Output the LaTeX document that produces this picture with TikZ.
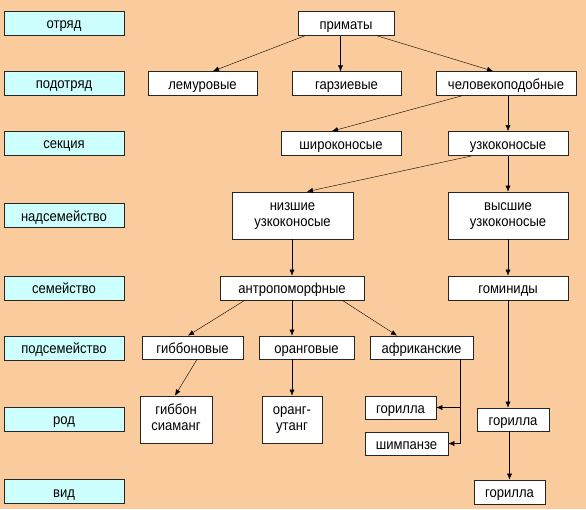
\documentclass[tikz,border=0pt]{standalone}
\usepackage{fontspec}
\setmainfont{Liberation Sans}[FakeStretch=0.9]
\usetikzlibrary{arrows.meta, calc}

\definecolor{peach}{RGB}{250,203,156}
\definecolor{rankcyan}{RGB}{206,255,255}

\begin{document}
\begin{tikzpicture}[x=1pt, y=-1pt, >={Latex[length=6pt, width=5pt]},
    rankbox/.style={draw=black!85, fill=rankcyan, line width=0.8pt, inner sep=0pt,
        minimum width=120pt, minimum height=24pt, text height=11pt, text depth=0pt},
    taxonbox/.style={draw=black!85, fill=white, line width=0.8pt, inner sep=0pt,
        minimum height=24pt, text height=11pt, text depth=0pt},
    twoline/.style={taxonbox, align=center, minimum height=47pt,
        text height=24pt, text depth=2pt},
    font=\fontsize{14.5}{16.5}\selectfont]

    % --- Background ---
    \fill[peach] (0,0) rectangle (586,509);
    \useasboundingbox (0,0) rectangle (586,509);

    % --- Ranks (left column) ---
    \node[rankbox] (rOtryad)    at (64,23)    {отряд};
    \node[rankbox] (rPodotryad) at (64,83)    {подотряд};
    \node[rankbox] (rSekciya)   at (64,143)   {секция};
    \node[rankbox] (rNadsem)    at (64,215.5) {надсемейство};
    \node[rankbox] (rSem)       at (64,288)   {семейство};
    \node[rankbox] (rPodsem)    at (64,348)   {подсемейство};
    \node[rankbox] (rRod)       at (64,419)   {род};
    \node[rankbox] (rVid)       at (64,491.5) {вид};

    % --- Taxa ---
    \node[taxonbox, minimum width=96pt]  (primaty)   at (346,23.5)   {приматы};
    \node[taxonbox, minimum width=109pt] (lemur)     at (202.5,83.5) {лемуровые};
    \node[taxonbox, minimum width=109pt] (tarz)      at (346.5,83.5) {гарзиевые};
    \node[taxonbox, minimum width=140pt] (chelov)    at (506,83.5)   {человекоподобные};
    \node[taxonbox, minimum width=120pt] (shiroko)   at (341,143.5)  {широконосые};
    \node[taxonbox, minimum width=120pt] (uzko)      at (508,143.5)  {узкоконосые};
    \node[twoline, minimum width=121pt] (nizshie) at (292.5,215.5) {низшие\\узкоконосые};
    \node[twoline, minimum width=120pt] (vysshie) at (508,215.5)   {высшие\\узкоконосые};
    \node[taxonbox, minimum width=144pt] (antropo)   at (292,288)    {антропоморфные};
    \node[taxonbox, minimum width=120pt] (gominid)   at (508,288)    {гоминиды};
    \node[taxonbox, minimum width=101pt, minimum height=23pt] (gibbonovye) at (192.5,347.5) {гиббоновые};
    \node[taxonbox, minimum width=95pt, minimum height=23pt]  (orangovye)  at (306.5,347.5) {оранговые};
    \node[taxonbox, minimum width=103pt, minimum height=23pt] (afrikan)    at (421.5,347.5) {африканские};
    \node[twoline, minimum width=72pt] (gibbon)     at (176,419.5)   {гиббон\\сиаманг};
    \node[twoline, minimum width=60pt] (orangutan)  at (292,419.5)   {оранг-\\утанг};
    \node[taxonbox, minimum width=71pt, minimum height=23pt]  (gorillaL)   at (400.5,407.5) {горилла};
    \node[taxonbox, minimum width=83pt, minimum height=23pt]  (shimp)      at (406.5,443.5) {шимпанзе};
    \node[taxonbox, minimum width=72pt, minimum height=23pt]  (gorillaR)   at (513,419.5)   {горилла};
    \node[taxonbox, minimum width=71pt]  (gorillaV)  at (509.5,492)  {горилла};

    % --- Connectors ---
    \draw[->] ($(primaty.south west)+(7,0)$) -- ($(lemur.north)+(10.5,0)$);
    \draw[->] (primaty.south -| tarz.north) ++(-6,0) -- ++(0,35.5);
    \draw[->] ($(primaty.south east)+(-17,0)$) -- ($(chelov.north)+(-13,0)$);

    \draw[->] ($(chelov.south west)+(26,0)$) -- ($(shiroko.north)+(-9,0)$);
    \draw[->] (chelov.south -| uzko.north) -- (uzko.north);

    \draw[->] ($(uzko.south west)+(24,0)$) -- ($(nizshie.north)+(14.5,0)$);
    \draw[->] (uzko.south) -- (vysshie.north);

    \draw[->] (antropo.north |- nizshie.south) -- (antropo.north);
    \draw[->] (vysshie.south) -- (gominid.north);

    \draw[->] ($(antropo.south west)+(25,0)$) -- ($(gibbonovye.north)+(-4.5,0)$);
    \draw[->] (antropo.south) -- (antropo.south |- orangovye.north);
    \draw[->] ($(antropo.south east)+(-22,0)$) -- ($(afrikan.north)+(-24.5,0)$);
    \draw[->] (gominid.south) -- (gominid.south |- gorillaR.north);

    \draw[->] ($(gibbonovye.south)+(4.5,0)$) -- ($(gibbon.north)+(-1,0)$);
    \draw[->] (orangutan.north |- orangovye.south) -- (orangutan.north);

    % African branch: one trunk, two arrows
    \coordinate (afrTrunk) at ($(afrikan.south east)+(-13,0)$);
    \draw[->] (afrTrunk) |- (shimp.east);
    \draw[->] (afrTrunk |- gorillaL.east) -- (gorillaL.east);

    \draw[->] (gorillaV.north |- gorillaR.south) -- (gorillaV.north);

\end{tikzpicture}
\end{document}
